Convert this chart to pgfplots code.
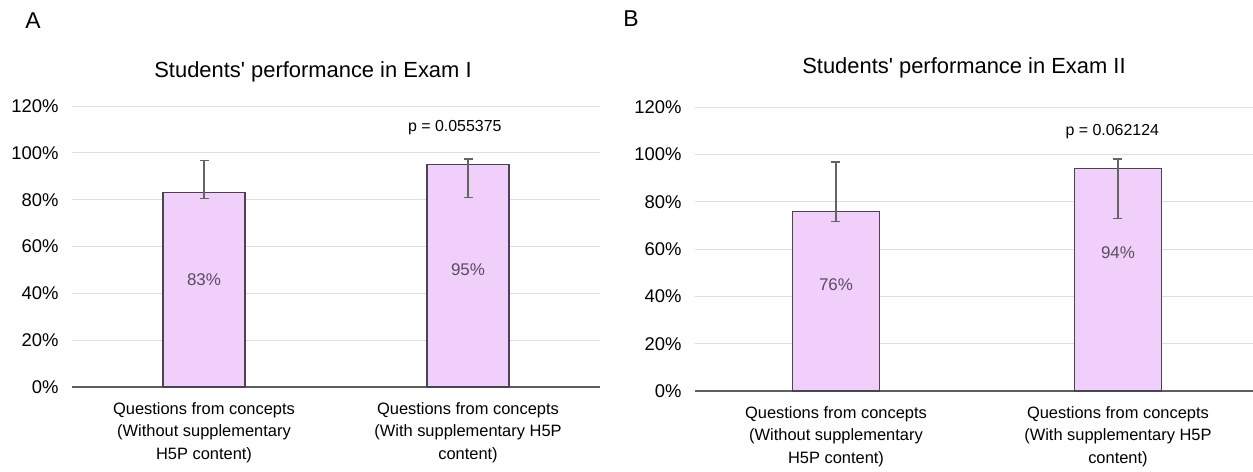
\documentclass[border=0pt]{standalone}
\usepackage{pgfplots}
\pgfplotsset{compat=1.18}
\usepackage{pgfplotstable}
\usepackage{fontspec}
\setmainfont{Liberation Sans}
\definecolor{barfill}{RGB}{240,208,251}
\definecolor{bardraw}{RGB}{75,68,80}
\definecolor{gridc}{RGB}{222,222,222}
\definecolor{axisc}{RGB}{95,95,95}
\definecolor{valc}{RGB}{88,76,94}
\definecolor{errc}{RGB}{100,100,100}

\pgfplotstableread{
x y ep em
0 83 13.7 2.5
1 95 2.4 13.9
}\dataA
\pgfplotstableread{
x y ep em
0 76 20.8 4.4
1 94 4.1 21.1
}\dataB

\pgfplotsset{
 mystyle/.style={
  scale only axis,
  ybar, bar width=0.31,
  xmin=-0.5,
  ymin=0, ymax=120, ytick={0,20,...,120},
  yticklabel={\pgfmathprintnumber{\tick}\%},
  /pgf/number format/assume math mode=true,
  yticklabel style={font=\fontsize{18.5}{21}\selectfont, text=black, xshift=-10bp},
  xtick={0,1},
  xticklabels={{Questions from concepts\\(Without supplementary\\H5P content)},{Questions from concepts\\(With supplementary H5P\\content)}},
  xticklabel style={align=center, font=\fontsize{16.5}{22.5}\selectfont, text=black, yshift=-12bp},
  ymajorgrids, grid style={gridc, line width=1bp},
  axis line style={draw=none},
  major tick length=0pt,
  tick style={draw=none},
  extra y ticks={0}, extra y tick labels={},
  extra y tick style={grid style={axisc, line width=1.6bp}},
  clip=false,
 },
 mybar/.style={fill=barfill, draw=bardraw, line width=1.4bp,
  error bars/.cd, y dir=both, y explicit,
  error bar style={errc, line width=1.3bp},
  error mark options={errc, mark size=4.5bp, rotate=90, line width=1.3bp}},
}

\begin{document}
\begin{tikzpicture}[x=1bp,y=1bp]
\useasboundingbox (0bp,0bp) rectangle (1253bp,472bp);

\begin{axis}[mystyle, width=528bp, height=280.8bp, xmax=1.5,
  at={(72bp,85bp)}, anchor=south west]
\addplot[mybar] table[x=x, y=y, y error plus=ep, y error minus=em] {\dataA};
\node[font=\fontsize{17}{20}\selectfont, text=valc] at (axis cs:0,45.7) {83\%};
\node[font=\fontsize{17}{20}\selectfont, text=valc] at (axis cs:1,50) {95\%};
\node[font=\fontsize{16}{20}\selectfont, text=black] at (axis cs:0.95,110.7) {p = 0.055375};
\end{axis}

\begin{axis}[mystyle, width=558bp, height=283.8bp, xmax=1.479,
  at={(695bp,81bp)}, anchor=south west]
\addplot[mybar] table[x=x, y=y, y error plus=ep, y error minus=em] {\dataB};
\node[font=\fontsize{17}{20}\selectfont, text=valc] at (axis cs:0,44.8) {76\%};
\node[font=\fontsize{17}{20}\selectfont, text=valc] at (axis cs:1,58.5) {94\%};
\node[font=\fontsize{16}{20}\selectfont, text=black] at (axis cs:0.98,109.6) {p = 0.062124};
\end{axis}

\node[font=\fontsize{22}{26}\selectfont] at (313bp,400bp) {Students\textquotesingle{} performance in Exam I};
\node[font=\fontsize{22}{26}\selectfont] at (964bp,404bp) {Students\textquotesingle{} performance in Exam II};
\node[font=\fontsize{23}{26}\selectfont] at (33bp,451bp) {A};
\node[font=\fontsize{23}{26}\selectfont] at (631bp,453bp) {B};
\end{tikzpicture}
\end{document}
